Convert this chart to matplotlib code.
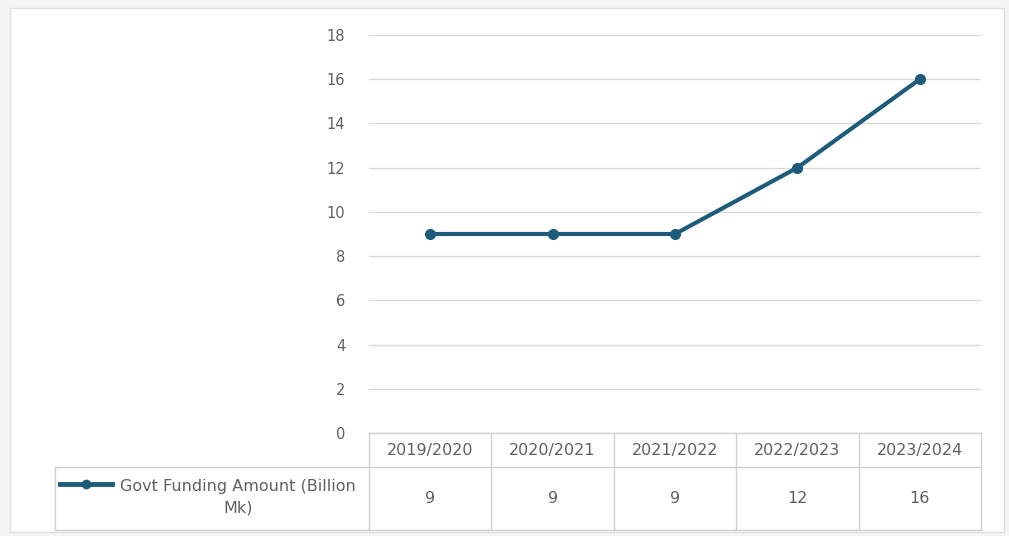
import matplotlib.pyplot as plt
from matplotlib.lines import Line2D
from matplotlib.patches import Rectangle

#%% Data
years = ["2019/2020", "2020/2021", "2021/2022", "2022/2023", "2023/2024"]
funding = [9, 9, 9, 12, 16]
series_name = "Govt Funding Amount (Billion\nMk)"
y_ticks = list(range(0, 19, 2))

line_color = "#1d5b79"
text_color = "#606060"
grid_color = "#d9d9d9"

W, H = 1009, 536
fig = plt.figure(figsize=(W / 100, H / 100), dpi=100)
fig.patch.set_facecolor("#f4f4f4")

def fx(px):
    return px / W

def fy(py):
    return 1 - py / H

# chart area
fig.add_artist(Rectangle((fx(10), fy(532)), fx(1004) - fx(10), fy(8) - fy(532),
                         transform=fig.transFigure, facecolor="white",
                         edgecolor="#e0e0e0", lw=1, zorder=-10))

#%% Plot area
left, right, top, bottom = 369, 981, 35, 433
ax = fig.add_axes([fx(left), fy(bottom), fx(right) - fx(left), fy(top) - fy(bottom)])
ax.set_facecolor("none")
x = range(len(years))
ax.plot(x, funding, color=line_color, lw=3, marker="o", ms=7, solid_capstyle="round", zorder=3)
ax.set_xlim(-0.5, len(years) - 0.5)
ax.set_ylim(0, 18)
ax.set_yticks(y_ticks)
ax.set_yticklabels([str(t) for t in y_ticks], color=text_color, fontsize=10.5)
ax.yaxis.grid(True, color=grid_color, lw=1)
ax.set_axisbelow(True)
ax.tick_params(axis="y", length=0, pad=17)
ax.set_xticks([])
for s in ax.spines.values():
    s.set_visible(False)

#%% Data table
tab_left, row1, row2, row3 = 55, 433, 467, 530
col_w = (right - left) / len(years)
tc = "#d0d0d0"

def hline(py, x0, x1):
    fig.add_artist(Line2D([fx(x0), fx(x1)], [fy(py), fy(py)], color=tc, lw=1))

def vline(px, y0, y1):
    fig.add_artist(Line2D([fx(px), fx(px)], [fy(y0), fy(y1)], color=tc, lw=1))

hline(row1, left, right)
hline(row2, tab_left, right)
hline(row3, tab_left, right)
vline(tab_left, row2, row3)
for i in range(len(years) + 1):
    vline(left + i * col_w, row1, row3)

for i, (yr, v) in enumerate(zip(years, funding)):
    cx = left + (i + 0.5) * col_w
    fig.text(fx(cx), fy((row1 + row2) / 2), yr, ha="center", va="center",
             color=text_color, fontsize=11.5)
    fig.text(fx(cx), fy((row2 + row3) / 2), str(v), ha="center", va="center",
             color=text_color, fontsize=11.5)

# legend key in table
ky = 484
fig.add_artist(Line2D([fx(60), fx(112)], [fy(ky), fy(ky)], color=line_color, lw=3.5))
fig.add_artist(Line2D([fx(86)], [fy(ky)], color=line_color, marker="o", ms=6))
fig.text(fx(238), fy(497), series_name, ha="center", va="center",
         color=text_color, fontsize=11.5, linespacing=1.55)

fig.savefig("out.png", dpi=100, facecolor=fig.get_facecolor())
